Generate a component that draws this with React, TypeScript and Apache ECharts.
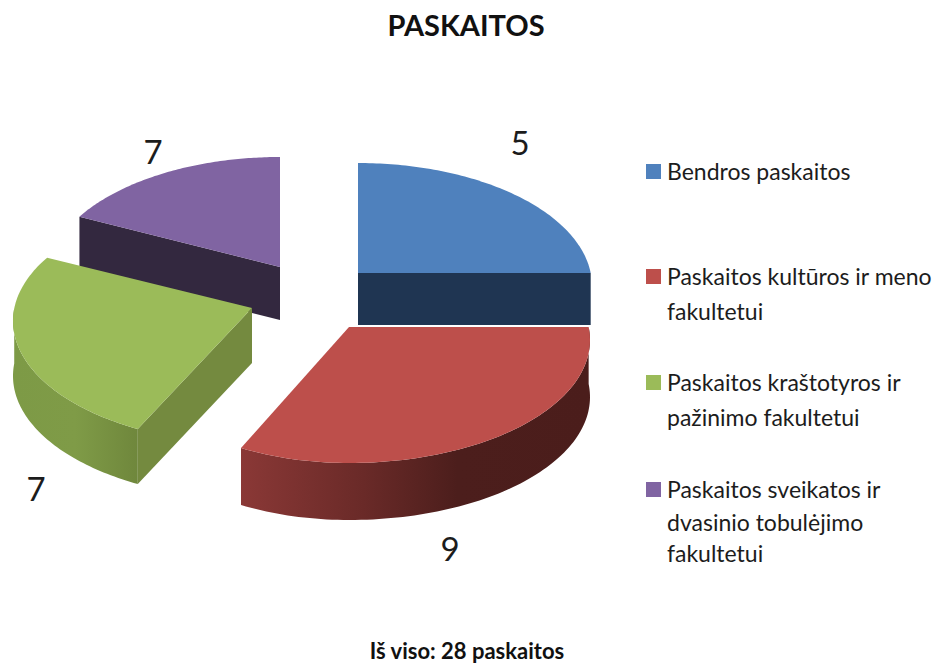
import React, { useEffect, useRef } from "react";
import * as echarts from "echarts";

const chartTitle = "PASKAITOS";
const footer = "Iš viso: 28 paskaitos";
const categories = [
  "Bendros paskaitos",
  "Paskaitos kultūros ir meno fakultetui",
  "Paskaitos kraštotyros ir pažinimo fakultetui",
  "Paskaitos sveikatos ir dvasinio tobulėjimo fakultetui",
];
const legendLines = [
  ["Bendros paskaitos"],
  ["Paskaitos kultūros ir meno", "fakultetui"],
  ["Paskaitos kraštotyros ir", "pažinimo fakultetui"],
  ["Paskaitos sveikatos ir", "dvasinio tobulėjimo", "fakultetui"],
];
// Numbers printed beside the slices
const printedValues = [5, 9, 7, 7];
// Share of the circle each slice really occupies in the picture
const sliceShares = [7, 9, 7, 5];

const topColors = ["#4f81bd", "#bd4f4b", "#9bbb59", "#8064a2"];
const cutColors = ["#1f3552", "#4b1d1b", "#748a3f", "#33283f"];
const wallStops: [number, string][][] = [
  [[0, "#1f3552"], [1, "#1f3552"]],
  [[0, "#8a3836"], [0.35, "#6a2a28"], [0.62, "#4c1e1c"], [1, "#4b1d1b"]],
  [[0, "#7d9a46"], [0.5, "#7f9b47"], [1, "#6f873c"]],
  [[0, "#33283f"], [1, "#33283f"]],
];
const apexes = [[358, 273], [349, 327], [252, 308], [280, 267]];
const radiiRight = [234, 241, 239, 234];
const radiiLeft = [234, 226, 239, 234];
const depths = [52, 57, 55, 53];
const labelPos = [[520, 142], [450, 548], [36, 488], [153, 151]];
const legendTops = [171, 276, 382, 489];
const legendRows = [[171], [276, 311], [382, 417], [489, 522, 553]];
const drawOrder = [3, 0, 2, 1];

const RY = 123;
const SHIFT = 13;
const RAY_Y = 122;

function rimPoint(i: number, deg: number): number[] {
  const t = (deg * Math.PI) / 180;
  const rx = Math.sin(t) < 0 ? radiiLeft[i] : radiiRight[i];
  const dx = Math.sin(t) * rx;
  const dy = -Math.cos(t) * RAY_Y;
  // intersect the ray from the apex with the ellipse whose centre lies SHIFT below it
  const a = (dx * dx) / (rx * rx) + (dy * dy) / (RY * RY);
  const b = (-2 * dy * SHIFT) / (RY * RY);
  const c = (SHIFT * SHIFT) / (RY * RY) - 1;
  const k = (-b + Math.sqrt(b * b - 4 * a * c)) / (2 * a);
  return [apexes[i][0] + k * dx, apexes[i][1] + k * dy];
}

function renderSlice(i: number, startDeg: number, endDeg: number) {
  const [ax, ay] = apexes[i];
  const h = depths[i];
  const rim: number[][] = [];
  const steps = 90;
  for (let s = 0; s <= steps; s++) rim.push(rimPoint(i, startDeg + ((endDeg - startDeg) * s) / steps));
  const children: any[] = [];
  const cut = (p: number[]) => ({
    type: "polygon",
    shape: { points: [[ax, ay], p, [p[0], p[1] + h], [ax, ay + h]] },
    style: { fill: cutColors[i] },
  });
  // outer wall: only the part of the rim that faces the viewer
  const front = rim.filter((_, s) => {
    const d = startDeg + ((endDeg - startDeg) * s) / steps;
    return d >= 90 && d <= 270;
  });
  if (front.length > 1) {
    const lower = front.map((p) => [p[0], p[1] + h]).reverse();
    children.push({
      type: "polygon",
      shape: { points: [...front, ...lower] },
      style: {
        fill: new echarts.graphic.LinearGradient(
          0, 0, 1, 0,
          wallStops[i].map(([offset, color]) => ({ offset, color }))
        ),
      },
    });
  }
  const rad = (d: number) => (d * Math.PI) / 180;
  if (Math.sin(rad(startDeg)) < -0.001) children.push(cut(rim[0]));
  if (Math.sin(rad(endDeg)) > 0.001) children.push(cut(rim[rim.length - 1]));
  children.push({
    type: "polygon",
    shape: { points: [[ax, ay], ...rim] },
    style: { fill: topColors[i] },
  });
  return { type: "group", children };
}

export default function App() {
  const ref = useRef<HTMLDivElement>(null);
  useEffect(() => {
    const chart = echarts.init(ref.current!, null, { renderer: "svg" });
    const total = sliceShares.reduce((a, b) => a + b, 0);
    const starts: number[] = [];
    let acc = 0;
    sliceShares.forEach((v) => {
      starts.push((acc / total) * 360);
      acc += v;
    });
    const font = "Lato, 'Noto Sans', sans-serif";
    const legendGraphics: any[] = [];
    categories.forEach((_, i) => {
      legendGraphics.push({
        type: "rect",
        shape: { x: 646, y: legendTops[i] - 7, width: 15, height: 15 },
        style: { fill: topColors[i] },
      });
      legendLines[i].forEach((line, j) => {
        legendGraphics.push({
          type: "text",
          x: 667,
          y: legendRows[i][j],
          style: { text: line, font: `23px ${font}`, fill: "#1c1c1c", verticalAlign: "middle" },
        });
      });
    });
    chart.setOption({
      animation: false,
      title: [
        { text: chartTitle, left: 461, top: 5, textAlign: "center", textStyle: { fontFamily: font, fontWeight: "bold", fontSize: 29, color: "#111" } },
        { text: footer, left: 462, top: 634, textAlign: "center", textStyle: { fontFamily: font, fontWeight: "bold", fontSize: 22, color: "#111" } },
      ],
      graphic: legendGraphics,
      series: drawOrder.map((i) => ({
        type: "custom",
        name: categories[i],
        coordinateSystem: "none",
        data: [printedValues[i]],
        renderItem: () => renderSlice(i, starts[i], starts[i] + (sliceShares[i] / total) * 360),
        label: { show: false },
      })).concat([
        {
          type: "custom",
          name: "labels",
          coordinateSystem: "none",
          data: printedValues,
          renderItem: (_p: any, api: any) => {
            const idx = _p.dataIndex;
            return {
              type: "text",
              x: labelPos[idx][0],
              y: labelPos[idx][1],
              style: {
                text: String(api.value(0)),
                font: `33px ${font}`,
                fill: "#1c1c1c",
                align: "center",
                verticalAlign: "middle",
              },
            };
          },
        } as any,
      ]),
    });
    return () => chart.dispose();
  }, []);
  return <div ref={ref} style={{ position: "absolute", left: 0, top: 0, width: 936, height: 663 }} />;
}
